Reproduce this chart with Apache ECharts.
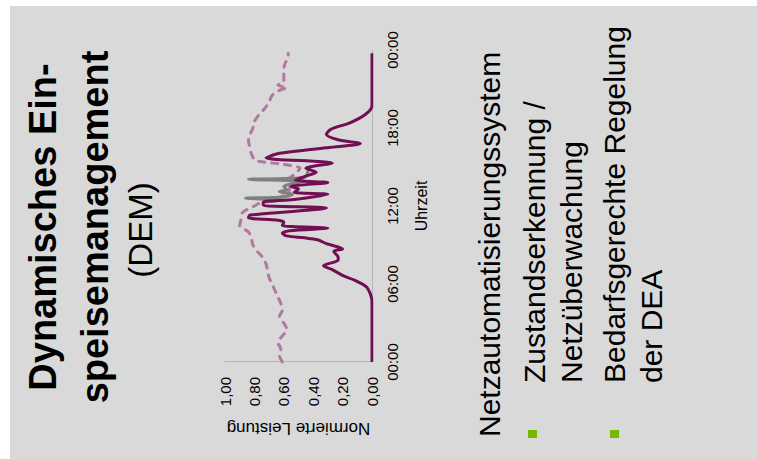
<!DOCTYPE html>
<html>
<head>
<meta charset="utf-8">
<script src="https://cdn.jsdelivr.net/npm/echarts@6/dist/echarts.min.js"></script>
<style>
  html, body { margin: 0; padding: 0; background: #ffffff; overflow: hidden; width: 757px; height: 459px; }
  #slide { position: absolute; }
</style>
</head>
<body>
<div id="slide"></div>
<script>
// Tick labels
const timeLabels = ['00:00', '06:00', '12:00', '18:00', '00:00'];
const valueLabels = ['0,00', '0,20', '0,40', '0,60', '0,80', '1,00'];

// Feed-in with dynamic curtailment [hour, normalised power]
const einspeisungGeregelt = [
  [0, 0], [4.6, 0], [5.2, 0.01], [5.8, 0.04], [6.3, 0.12], [6.6, 0.19], [7.1, 0.27], [7.4, 0.33],
  [7.85, 0.23], [8.05, 0.23], [8.5, 0.26], [8.7, 0.2], [9.1, 0.31], [9.4, 0.37], [9.55, 0.46],
  [9.7, 0.58], [9.9, 0.61], [10.1, 0.56], [10.3, 0.30], [10.5, 0.61], [10.75, 0.6], [10.9, 0.64],
  [11.1, 0.84], [11.3, 0.83], [11.85, 0.31], [12.05, 0.74], [12.3, 0.74], [12.5, 0.53], [12.9, 0.30],
  [13.05, 0.53], [13.3, 0.5], [13.5, 0.55], [13.8, 0.30], [14.0, 0.52], [14.3, 0.45], [14.6, 0.38],
  [14.9, 0.45], [15.3, 0.27], [15.7, 0.72], [16.0, 0.65], [16.25, 0.49], [16.5, 0.29], [16.8, 0.08],
  [17.1, 0.23], [17.5, 0.31], [17.9, 0.28], [18.4, 0.15], [19.0, 0.05], [19.7, 0.0], [23.75, 0]
];

// Feed-in without curtailment, where it differs from the curtailed curve
const einspeisungUngeregelt = [
  [12.3, 0.74], [12.45, 0.62], [12.6, 0.86], [12.7, 0.6], [12.9, 0.54], [13.1, 0.63], [13.25, 0.58],
  [13.5, 0.6], [13.7, 0.55], [13.9, 0.46], [14.05, 0.84], [14.2, 0.46], [14.5, 0.44], [14.9, 0.43]
];

// Network load
const netzlast = [
  [0, 0.61], [0.5, 0.63], [1, 0.62], [1.5, 0.64], [2, 0.61], [2.5, 0.58], [3, 0.6], [3.5, 0.63],
  [4, 0.61], [4.5, 0.62], [5, 0.64], [5.5, 0.66], [6, 0.68], [6.5, 0.7], [7, 0.71], [7.5, 0.72],
  [8, 0.74], [8.5, 0.78], [9, 0.81], [9.5, 0.82], [10, 0.84], [10.5, 0.9], [11, 0.89], [11.5, 0.88],
  [12, 0.8], [12.25, 0.76], [12.5, 0.66], [12.75, 0.61], [13, 0.57], [13.5, 0.56], [14, 0.57],
  [14.5, 0.52], [14.9, 0.49], [15.2, 0.6], [15.5, 0.79], [16, 0.82], [16.5, 0.83], [17, 0.84],
  [17.5, 0.83], [18, 0.81], [18.5, 0.8], [19, 0.77], [19.5, 0.73], [20, 0.7], [20.5, 0.68],
  [20.9, 0.63], [21.1, 0.58], [21.3, 0.64], [21.6, 0.6], [22, 0.6], [22.5, 0.6], [23, 0.59],
  [23.5, 0.57], [23.75, 0.57]
];

// Slide text
const titel = ['Dynamisches Ein-', 'speisemanagement'];
const titelKurz = '(DEM)';
const punkte = ['Netzautomatisierungssystem', 'Zustandserkennung /', 'Netzüberwachung',
                'Bedarfsgerechte Regelung', 'der DEA'];

// The slide is laid out upright (portrait) and turned a quarter turn counter-clockwise.
const S = 1.0;                 // horizontal stretch of the slide
const H = 757;                 // slide height
const W = 459 / S;             // slide width before stretch
const el = document.getElementById('slide');
el.style.width = W + 'px';
el.style.height = H + 'px';
el.style.left = ((757 - W) / 2) + 'px';
el.style.top = ((459 - H) / 2) + 'px';
el.style.transform = 'rotate(-90deg) scaleX(' + S + ')';

const u = (px) => px / S;
const FONT = '"Liberation Sans", Arial, sans-serif';

function text(str, x, y, size, weight, align) {
  return {
    type: 'text', x: x, y: y, z: 10,
    style: {
      text: str, fill: '#000', fontSize: size, fontWeight: weight, fontFamily: FONT,
      align: align, verticalAlign: 'middle'
    }
  };
}

const chart = echarts.init(el, null, { renderer: 'svg', width: W, height: H });
chart.setOption({
  backgroundColor: '#ffffff',
  animation: false,
  graphic: [
    { type: 'rect', z: -10, shape: { x: 0, y: 10, width: u(453), height: H - 10 }, style: { fill: '#d9d9d9' } },
    text(titel[0], u(232), 43, 38, 'bold', 'center'),
    text(titel[1], u(232), 95, 38, 'bold', 'center'),
    text(titelKurz, u(229), 140, 33, 'normal', 'center'),
    text(punkte[0], u(22), 489.5, 30, 'normal', 'left'),
    text(punkte[1], u(76), 534.5, 30, 'normal', 'left'),
    text(punkte[2], u(76), 571.5, 30, 'normal', 'left'),
    text(punkte[3], u(76), 614.5, 30, 'normal', 'left'),
    text(punkte[4], u(76), 651.5, 30, 'normal', 'left'),
    { type: 'rect', z: 10, shape: { x: u(21), y: 528, width: u(8), height: 9 }, style: { fill: '#77b800' } },
    { type: 'rect', z: 10, shape: { x: u(21), y: 610, width: u(8), height: 9 }, style: { fill: '#77b800' } }
  ],
  grid: { left: u(97), right: W - u(409), top: 225, bottom: H - 372, containLabel: false },
  xAxis: {
    type: 'value', min: 0, max: 24, interval: 6,
    axisLine: { show: true, onZero: false, lineStyle: { color: '#b4b4b4', width: 1 } },
    axisTick: { show: false },
    splitLine: { show: false },
    axisLabel: {
      color: '#000', fontSize: 15, fontFamily: FONT, margin: 13,
      formatter: (v) => timeLabels[Math.round(v / 6)]
    },
    name: 'Uhrzeit', nameLocation: 'middle', nameGap: 41,
    nameTextStyle: { color: '#000', fontSize: 16, fontFamily: FONT }
  },
  yAxis: {
    type: 'value', min: 0, max: 1, interval: 0.2,
    axisLine: { show: true, lineStyle: { color: '#b4b4b4', width: 1 } },
    axisTick: { show: false },
    splitLine: { show: false },
    axisLabel: {
      color: '#000', fontSize: 15, fontFamily: FONT, margin: u(15),
      formatter: (v) => valueLabels[Math.round(v / 0.2)]
    },
    name: 'Normierte Leistung', nameLocation: 'middle', nameRotate: 90, nameGap: u(58),
    nameTextStyle: { color: '#000', fontSize: 17, fontFamily: FONT }
  },
  series: [
    {
      name: 'Netzlast', type: 'line', data: netzlast, showSymbol: false, smooth: 0.3, z: 2,
      lineStyle: { color: '#b0799f', width: 3, type: [6, 7], cap: 'round' }
    },
    {
      name: 'Einspeisung ungeregelt', type: 'line', data: einspeisungUngeregelt, showSymbol: false,
      smooth: 0.3, z: 3, lineStyle: { color: '#808080', width: 3 }
    },
    {
      name: 'Einspeisung geregelt', type: 'line', data: einspeisungGeregelt, showSymbol: false,
      smooth: 0.3, z: 4, lineStyle: { color: '#720f52', width: 3 }
    }
  ]
});
</script>
</body>
</html>
